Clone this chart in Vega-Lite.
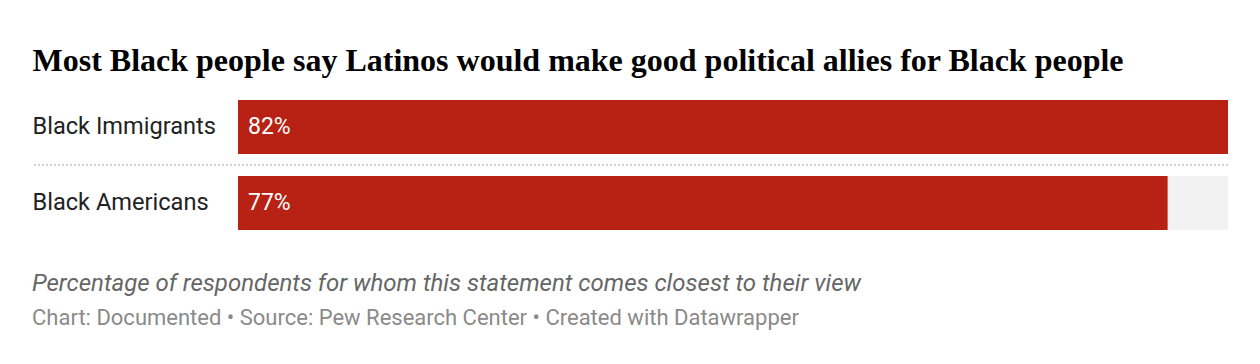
{
  "$schema": "https://vega.github.io/schema/vega-lite/v6.json",
  "autosize": {"type": "none"},
  "width": 1196,
  "height": 130,
  "padding": {"left": 32, "right": 32, "top": 100, "bottom": 134},
  "background": "#ffffff",
  "config": {"view": {"stroke": null}, "font": "Roboto"},
  "data": {
    "values": [
      {"label": "Black Immigrants", "value": 0.82},
      {"label": "Black Americans", "value": 0.77}
    ]
  },
  "transform": [
    {"joinaggregate": [{"op": "max", "field": "value", "as": "maxValue"}]}
  ],
  "title": {
    "text": "Percentage of respondents for whom this statement comes closest to their view",
    "subtitle": "Chart: Documented • Source: Pew Research Center • Created with Datawrapper",
    "orient": "bottom",
    "anchor": "start",
    "frame": "group",
    "offset": 42,
    "font": "Roboto",
    "fontStyle": "italic",
    "fontWeight": "normal",
    "fontSize": 24,
    "color": "#666666",
    "subtitleFont": "Roboto",
    "subtitleFontSize": 22,
    "subtitleColor": "#8a8a8a",
    "subtitlePadding": 12
  },
  "encoding": {
    "y": {
      "field": "label",
      "type": "nominal",
      "sort": ["Black Immigrants", "Black Americans"],
      "scale": {"paddingInner": 0.2895, "paddingOuter": 0},
      "axis": {
        "title": null,
        "domain": false,
        "ticks": false,
        "tickSize": 0,
        "labelAlign": "left",
        "labelPadding": 0,
        "labelBaseline": "middle",
        "labelFont": "Roboto",
        "labelFontSize": 23.6,
        "labelColor": "#222222",
        "labelLimit": 300
      }
    }
  },
  "layer": [
    {
      "mark": {"type": "bar", "color": "#f2f2f2"},
      "encoding": {
        "x": {
          "field": "maxValue",
          "type": "quantitative",
          "scale": {"domain": [-0.170626, 0.82], "nice": false, "zero": false},
          "axis": {
            "orient": "top",
            "labels": false,
            "ticks": false,
            "domain": false,
            "grid": false,
            "title": "Most Black people say Latinos would make good political allies for Black people",
            "titleAnchor": "start",
            "titleAlign": "left",
            "titleX": 0,
            "titleY": -30,
            "titleBaseline": "alphabetic",
            "titleFont": "Liberation Serif",
            "titleFontWeight": "bold",
            "titleFontSize": 32,
            "titleColor": "#000000"
          }
        }
      }
    },
    {
      "mark": {"type": "bar", "color": "#b82214"},
      "encoding": {
        "x": {"field": "value", "type": "quantitative"}
      }
    },
    {
      "mark": {"type": "text", "align": "left", "baseline": "middle", "dx": 10, "color": "#ffffff", "font": "Roboto", "fontSize": 23},
      "encoding": {
        "x": {"datum": 0, "type": "quantitative"},
        "text": {"field": "value", "type": "quantitative", "format": ".0%"}
      }
    },
    {
      "transform": [{"filter": "datum.label === 'Black Immigrants'"}],
      "mark": {"type": "rule", "color": "#d0d0d0", "strokeWidth": 2, "strokeDash": [2, 2]},
      "encoding": {
        "y": {"field": "label", "type": "nominal", "bandPosition": 1.2037}
      }
    }
  ]
}
